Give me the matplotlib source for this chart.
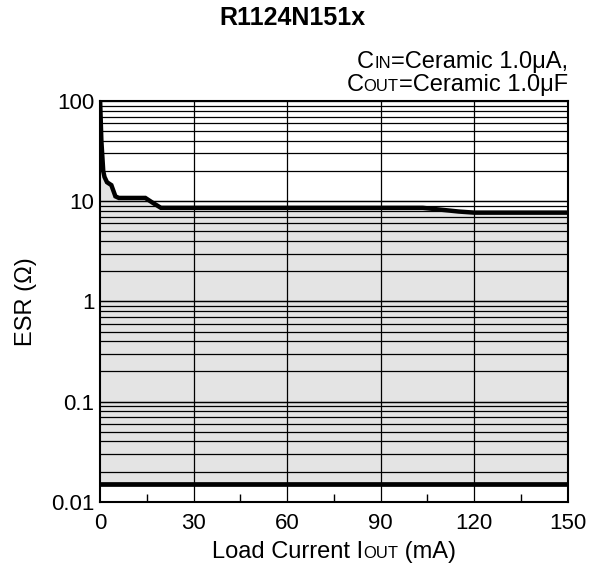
import matplotlib
matplotlib.use("Agg")
import matplotlib.pyplot as plt
from matplotlib.offsetbox import TextArea, HPacker, VPacker, AnnotationBbox
from matplotlib.ticker import FixedLocator, NullFormatter

plt.rcParams['font.family'] = ['Liberation Sans', 'DejaVu Sans']

# upper stability limit of ESR vs load current
iout = [0, 0.4, 1.0, 1.4, 2.2, 3.6, 4.9, 6.0, 14.5, 17.0, 19.5, 60, 90, 103.5, 110, 115, 120, 150]
esr_upper = [100, 40, 20, 17.5, 15.5, 14.5, 11.2, 10.8, 10.8, 9.6, 8.6, 8.6, 8.6, 8.6, 8.2, 7.9, 7.7, 7.7]
# lower limit
esr_lower = 0.015

x_ticks = [0, 30, 60, 90, 120, 150]
x_minor = [15, 45, 75, 105, 135]
y_ticks = [0.01, 0.1, 1, 10, 100]
y_labels = ['0.01', '0.1', '1', '10', '100']

fig = plt.figure(figsize=(5.89, 5.65), dpi=100)
ax = fig.add_axes([0.170, 0.112, 0.794, 0.709])
ax.set_yscale('log')
ax.set_xlim(0, 150)
ax.set_ylim(0.01, 100)

ax.fill_between(iout, esr_lower, esr_upper, color='#e4e4e4', zorder=1, linewidth=0)

# grid: every minor decade value and every 30 mA
for dec in [0.01, 0.1, 1, 10]:
    for m in range(1, 11):
        ax.axhline(dec * m, color='black', lw=0.9, zorder=2)
for xv in x_ticks[1:-1]:
    ax.axvline(xv, color='black', lw=0.9, zorder=2)

ax.plot(iout, esr_upper, color='black', lw=3.2, zorder=4, solid_joinstyle='miter')
ax.axhline(esr_lower, color='black', lw=3.4, zorder=4)

ax.set_xticks(x_ticks)
ax.xaxis.set_minor_locator(FixedLocator(x_minor))
ax.tick_params(axis='x', which='major', length=0, labelsize=16, pad=8)
ax.tick_params(axis='x', which='minor', direction='in', length=6, width=1)
ax.yaxis.set_minor_locator(FixedLocator([]))
ax.yaxis.set_minor_formatter(NullFormatter())
ax.set_yticks(y_ticks)
ax.set_yticklabels(y_labels)
ax.tick_params(axis='y', which='major', length=0, labelsize=16, pad=4)
for s in ax.spines.values():
    s.set_linewidth(1.5)

ax.set_ylabel('ESR (Ω)', fontsize=17, labelpad=10)


def smallcaps(parts, big=14, small=10):
    kids = []
    for txt, is_small in parts:
        kids.append(TextArea(txt, textprops=dict(size=small if is_small else big, color='black')))
    return HPacker(children=kids, align='baseline', pad=0, sep=0)


fig.text(0.496, 0.968, 'R1124N151x', ha='center', va='center', fontsize=18, fontweight='bold')

line1 = smallcaps([('C', False), ('IN', True), ('=Ceramic 1.0μA,', False)], big=17, small=12)
line2 = smallcaps([('C', False), ('OUT', True), ('=Ceramic 1.0μF', False)], big=17, small=12)
note = VPacker(children=[line1, line2], align='right', pad=0, sep=1)
ab = AnnotationBbox(note, (0.964, 0.830), xycoords='figure fraction', box_alignment=(1, 0),
                    frameon=False, pad=0)
fig.add_artist(ab)

xlab = smallcaps([('Load Current I', False), ('OUT', True), (' (mA)', False)], big=17, small=12)
ab2 = AnnotationBbox(xlab, (0.567, 0.004), xycoords='figure fraction', box_alignment=(0.5, 0),
                     frameon=False, pad=0)
fig.add_artist(ab2)

fig.savefig('out.png', dpi=100)
